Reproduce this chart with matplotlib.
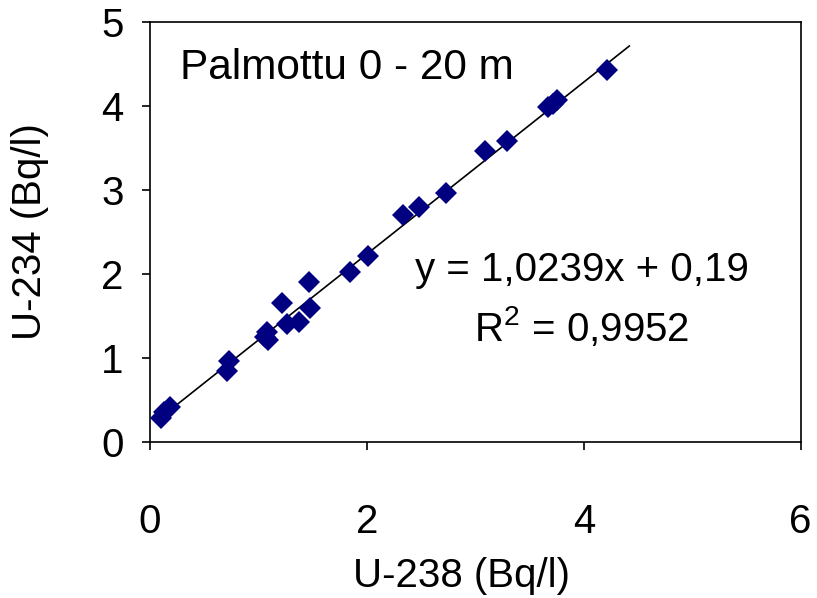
import matplotlib
matplotlib.use("Agg")
import matplotlib.pyplot as plt
import numpy as np

plt.rcParams['font.family'] = ['Liberation Sans', 'DejaVu Sans']
plt.rcParams['mathtext.fontset'] = 'custom'
plt.rcParams['mathtext.rm'] = 'Liberation Sans'

u238 = [0.10, 0.13, 0.18, 0.71, 0.73, 1.06, 1.08, 1.09, 1.22, 1.26, 1.37, 1.47, 1.48,
        1.84, 2.01, 2.33, 2.48, 2.73, 3.09, 3.29, 3.67, 3.72, 3.75, 4.21]
u234 = [0.28, 0.36, 0.42, 0.84, 0.96, 1.25, 1.31, 1.21, 1.66, 1.40, 1.43, 1.90, 1.60,
        2.02, 2.21, 2.70, 2.80, 2.96, 3.46, 3.58, 3.99, 4.02, 4.07, 4.43]
slope = 1.0239
intercept = 0.19
fit_range = [0.10, 4.42]
title_text = "Palmottu 0 - 20 m"
eq_text = "y = 1,0239x + 0,19"
r2_text = "R$^2$ = 0,9952"
xticks = [0, 2, 4, 6]
yticks = [0, 1, 2, 3, 4, 5]

fig = plt.figure(figsize=(8.17, 5.98), dpi=100)
ax = fig.add_axes([0.1836, 0.261, 0.7964, 0.702])

ax.plot(u238, u234, linestyle='none', marker='D', markersize=11,
        color='#000080', markeredgewidth=0, zorder=3)
xf = np.array(fit_range)
ax.plot(xf, slope * xf + intercept, color='black', linewidth=1.2, zorder=2)

ax.set_xlim(0, 6)
ax.set_ylim(0, 5)
ax.set_xticks(xticks)
ax.set_yticks(yticks)
ax.tick_params(direction='out', length=6, width=1.2, labelsize=29)
ax.tick_params(axis='x', pad=38)
ax.tick_params(axis='y', pad=13)
for s in ax.spines.values():
    s.set_linewidth(1.2)

ax.set_xlabel("U-238 (Bq/l)", fontsize=29, va='center')
ax.set_ylabel("U-234 (Bq/l)", fontsize=29, va='center')
ax.xaxis.set_label_coords(0.478, -0.32)
ax.yaxis.set_label_coords(-0.184, 0.5)

ax.text(0.28, 4.45, title_text, fontsize=30.5, ha='left', va='center')
ax.text(3.98, 2.05, eq_text, fontsize=29, ha='center', va='center')
ax.text(3.98, 1.37, r2_text, fontsize=29, ha='center', va='center')

fig.savefig("out.png", dpi=100)
